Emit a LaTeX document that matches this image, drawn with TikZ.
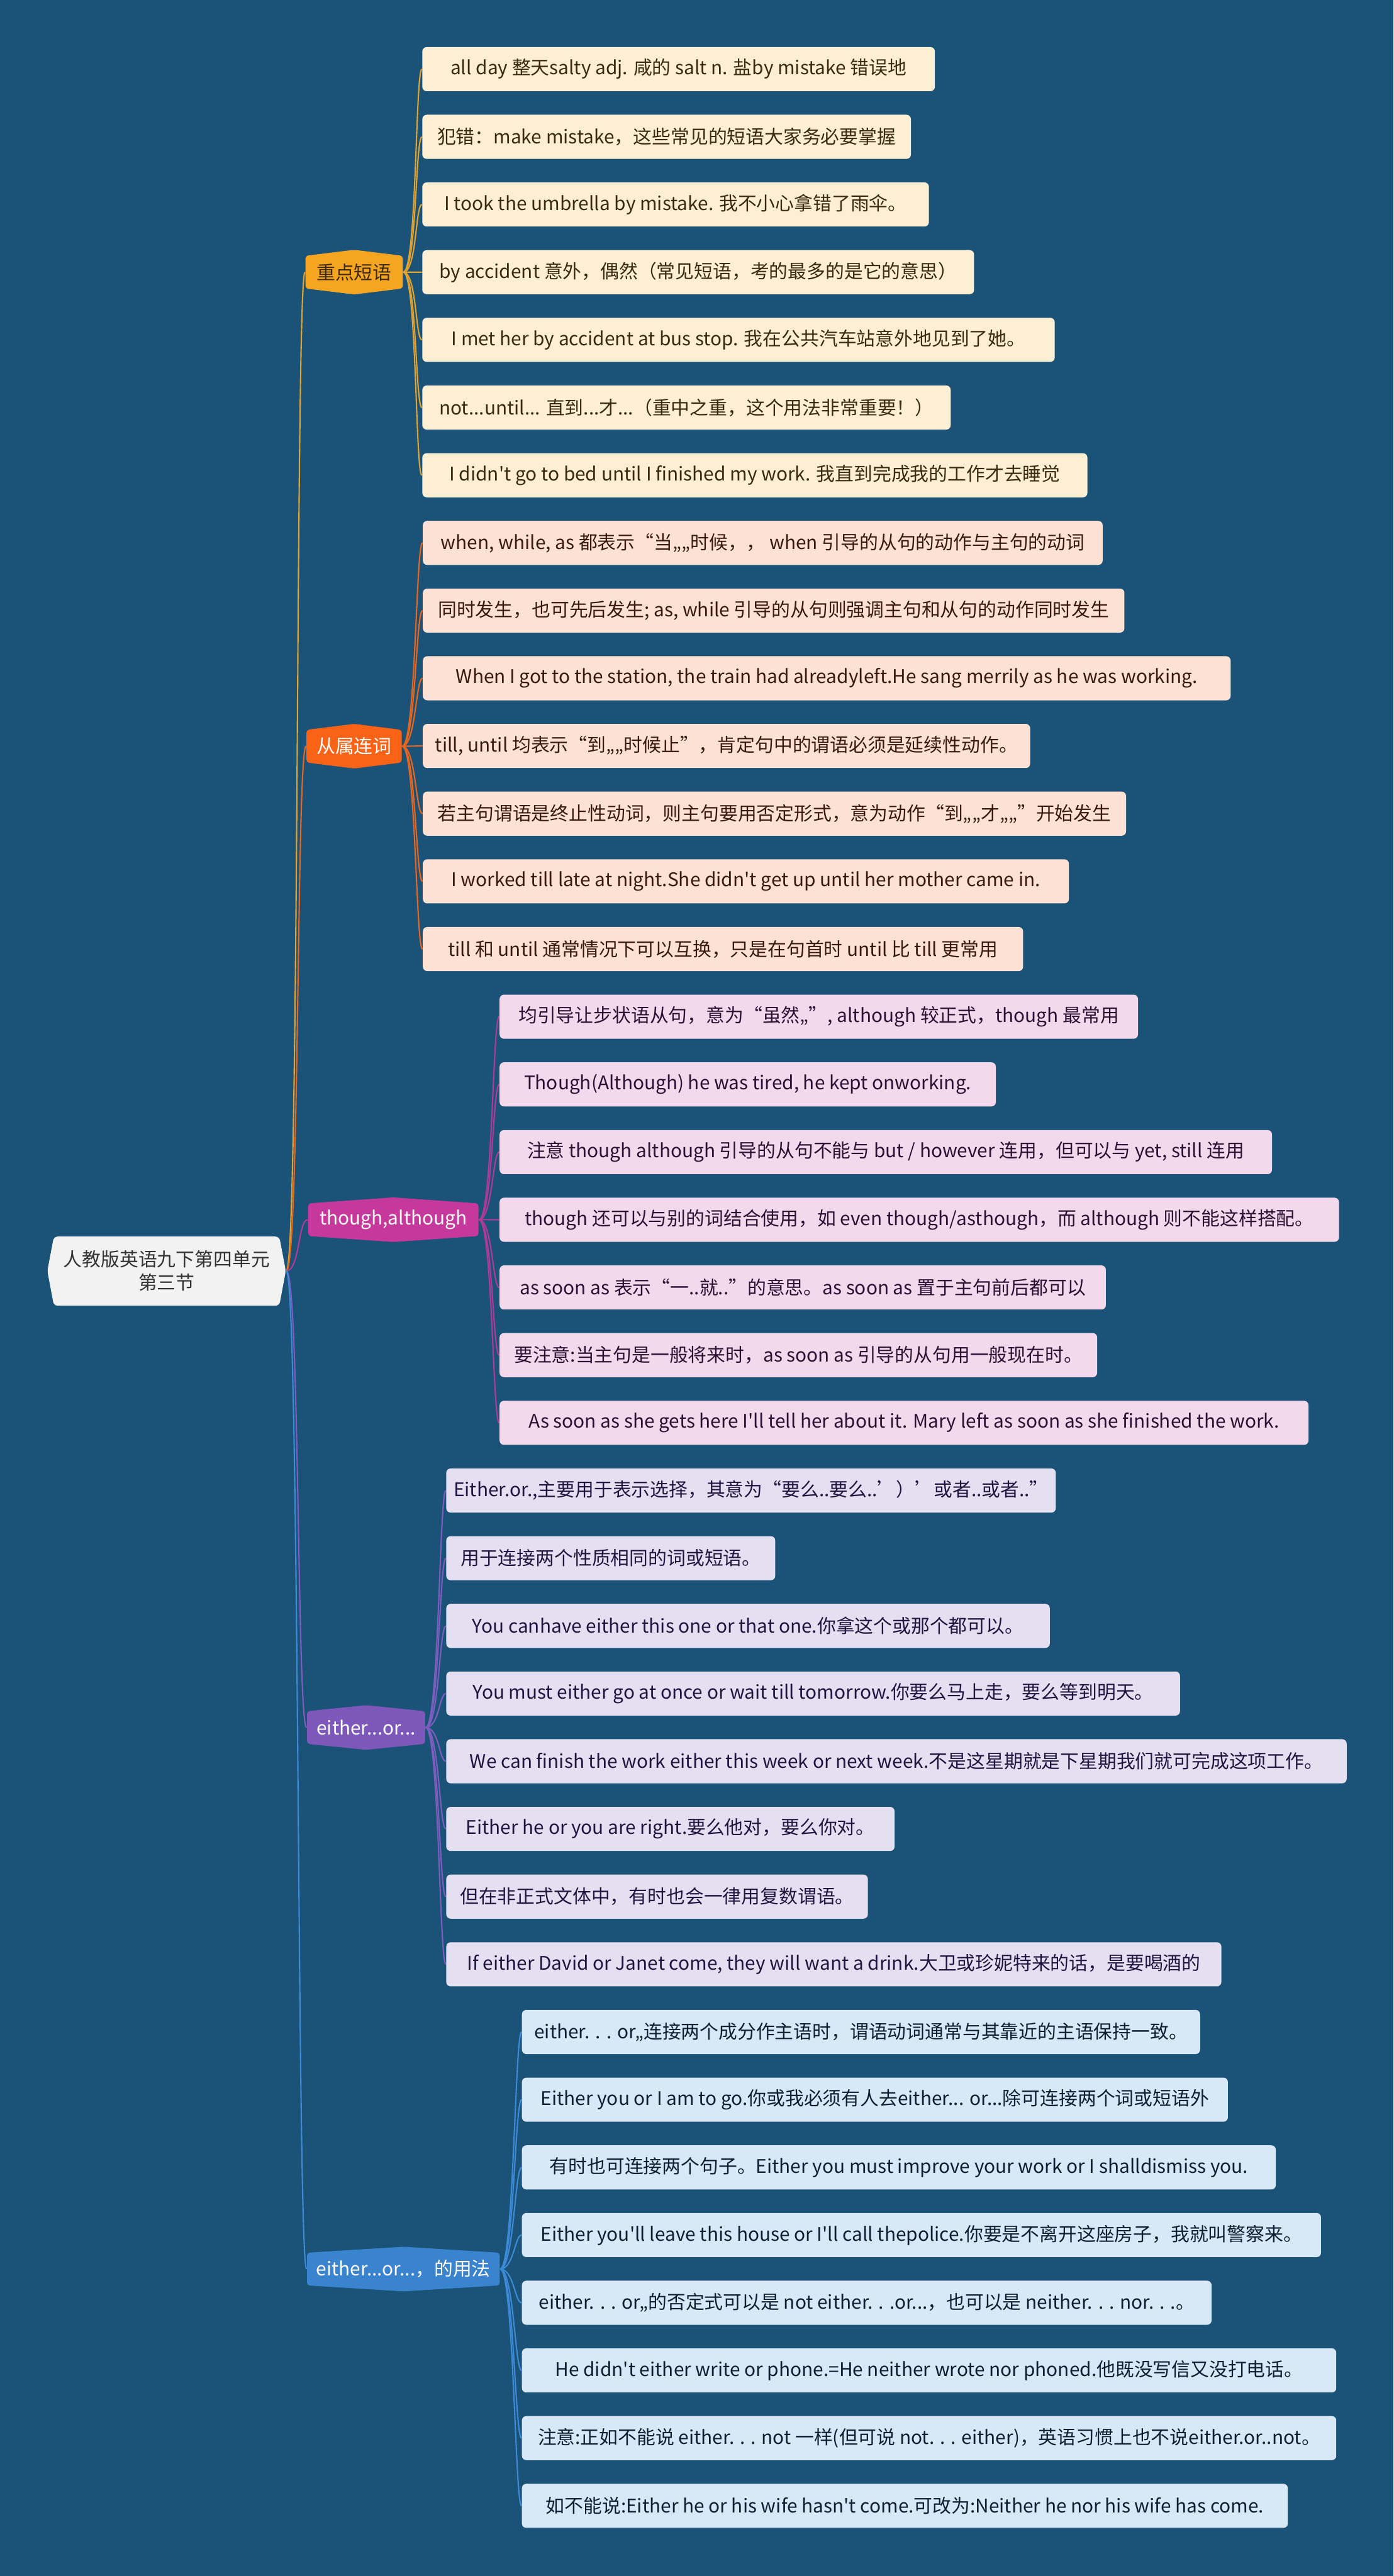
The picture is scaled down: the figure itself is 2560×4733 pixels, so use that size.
\documentclass[tikz,border=0pt]{standalone}
\usepackage{fontspec}
\setmainfont{Noto Sans CJK SC}
\newfontfamily\cjkf{Noto Sans CJK SC}
\usetikzlibrary{calc}
\definecolor{bgc}{RGB}{26,83,119}
\definecolor{rootfill}{RGB}{242,242,242}
\definecolor{roottxt}{RGB}{51,51,51}
\definecolor{hA}{RGB}{246,165,33}
\definecolor{hB}{RGB}{250,98,22}
\definecolor{hC}{RGB}{198,56,155}
\definecolor{hD}{RGB}{125,87,186}
\definecolor{hE}{RGB}{58,131,207}
\definecolor{lA}{RGB}{224,162,48}
\definecolor{lB}{RGB}{232,102,30}
\definecolor{lC}{RGB}{176,58,154}
\definecolor{lD}{RGB}{126,93,192}
\definecolor{lE}{RGB}{61,138,216}
\definecolor{fA}{RGB}{252,239,211}
\definecolor{fB}{RGB}{252,225,212}
\definecolor{fC}{RGB}{244,217,236}
\definecolor{fD}{RGB}{229,224,241}
\definecolor{fE}{RGB}{217,232,246}
\definecolor{tA}{RGB}{59,42,18}
\definecolor{tB}{RGB}{58,26,14}
\definecolor{tC}{RGB}{43,17,51}
\definecolor{tD}{RGB}{30,22,64}
\definecolor{tE}{RGB}{15,30,51}
\pgfdeclarelayer{bg}
\pgfsetlayers{bg,main}
\newcommand{\leaffont}{\cjkf\fontsize{9.8pt}{11.5pt}\selectfont}
\newcommand{\hexbranch}[7]{%
  \fill[#5, rounded corners=1.5pt] ({#2-#4},{#3-30}) -- (#2,{#3-41}) -- ({#2+#4},{#3-30}) -- ({#2+#4},{#3+30}) -- (#2,{#3+41}) -- ({#2-#4},{#3+30}) -- cycle;
  \node[branchtext, text=#6, minimum width={2*#4*0.01cm}] (#1) at (#2,#3) {#7};
}
\tikzset{
  leaf/.style={anchor=west, minimum height=0.81cm, rounded corners=2.3pt, inner sep=0pt, font=\leaffont},
  leafA/.style={leaf, fill=fA, text=tA},
  leafB/.style={leaf, fill=fB, text=tB},
  leafC/.style={leaf, fill=fC, text=tC},
  leafD/.style={leaf, fill=fD, text=tD},
  leafE/.style={leaf, fill=fE, text=tE},
  branchtext/.style={inner sep=0pt, minimum height=0.82cm, font=\cjkf\fontsize{9.8pt}{11.5pt}\selectfont},
  roottext/.style={inner sep=0pt, align=center, text=roottxt, font=\cjkf\fontsize{9.8pt}{12pt}\selectfont},
  conn/.style={line width=0.7pt},
}
\begin{document}
\begin{tikzpicture}[x=0.01cm,y=-0.01cm]
\begin{pgfonlayer}{bg}
\fill[bgc] (0,0) rectangle (2560,4733);
\end{pgfonlayer}
\useasboundingbox (0,0) rectangle (2560,4733);

% root
\fill[rootfill, rounded corners=2pt] (99,2272) -- (513,2272) -- (525,2335) -- (513,2399) -- (99,2399) -- (87,2335) -- cycle;
\node[roottext, minimum width=4.38cm, minimum height=1.27cm] (root) at (306,2335) {人教版英语九下第四单元\\第三节};

% branches
\hexbranch{b1}{650.5}{500}{89.5}{hA}{tA}{重点短语}
\hexbranch{b2}{650.5}{1371}{87.5}{hB}{white}{从属连词}
\hexbranch{b3}{722.5}{2241}{156.5}{hC}{white}{though,although}
\hexbranch{b4}{672.5}{3174}{108.5}{hD}{white}{either...or...}
\hexbranch{b5}{741}{4169}{177}{hE}{white}{either...or...，的用法}

% branch 1 leaves
\node[leafA, minimum width=9.41cm] (a1) at (775,127) {all day 整天salty adj. 咸的 salt n. 盐by mistake 错误地};
\node[leafA, minimum width=8.97cm] (a2) at (775,251.4) {犯错：make mistake，这些常见的短语大家务必要掌握};
\node[leafA, minimum width=9.30cm] (a3) at (775,375.7) {I took the umbrella by mistake. 我不小心拿错了雨伞。};
\node[leafA, minimum width=10.13cm] (a4) at (775,500.1) {by accident 意外，偶然（常见短语，考的最多的是它的意思）};
\node[leafA, minimum width=11.61cm] (a5) at (775,624.4) {I met her by accident at bus stop. 我在公共汽车站意外地见到了她。};
\node[leafA, minimum width=9.70cm] (a6) at (775,748.8) {not...until... 直到...才...（重中之重，这个用法非常重要！）};
\node[leafA, minimum width=12.21cm] (a7) at (775,873.2) {I didn't go to bed until I finished my work. 我直到完成我的工作才去睡觉};

% branch 2 leaves
\node[leafB, minimum width=12.48cm] (a8) at (776,997.5) {when, while, as 都表示“当„„时候，， when 引导的从句的动作与主句的动词};
\node[leafB, minimum width=12.88cm] (a9) at (776,1121.9) {同时发生，也可先后发生; as, while 引导的从句则强调主句和从句的动作同时发生};
\node[leafB, minimum width=14.83cm] (a10) at (776,1246.2) {When I got to the station, the train had alreadyleft.He sang merrily as he was working.};
\node[leafB, minimum width=11.15cm] (a11) at (776,1370.6) {till, until 均表示“到„„时候止”，肯定句中的谓语必须是延续性动作。};
\node[leafB, minimum width=12.91cm] (a12) at (776,1495.0) {若主句谓语是终止性动词，则主句要用否定形式，意为动作“到„„才„„”开始发生};
\node[leafB, minimum width=11.86cm] (a13) at (776,1619.3) {I worked till late at night.She didn't get up until her mother came in.};
\node[leafB, minimum width=11.02cm] (a14) at (776,1743.7) {till 和 until 通常情况下可以互换，只是在句首时 until 比 till 更常用};

% branch 3 leaves
\node[leafC, minimum width=11.72cm] (a15) at (917,1868.0) {均引导让步状语从句，意为“虽然„”, although 较正式，though 最常用};
\node[leafC, minimum width=9.11cm] (a16) at (917,1992.4) {Though(Although) he was tired, he kept onworking.};
\node[leafC, minimum width=14.18cm] (a17) at (917,2116.8) {注意 though although 引导的从句不能与 but / however 连用，但可以与 yet, still 连用};
\node[leafC, minimum width=15.41cm] (a18) at (917,2241.1) {though 还可以与别的词结合使用，如 even though/asthough，而 although 则不能这样搭配。};
\node[leafC, minimum width=11.13cm] (a19) at (917,2365.5) {as soon as 表示“一..就..”的意思。as soon as 置于主句前后都可以};
\node[leafC, minimum width=10.97cm] (a20) at (917,2489.8) {要注意:当主句是一般将来时，as soon as 引导的从句用一般现在时。};
\node[leafC, minimum width=14.85cm] (a21) at (917,2614.2) {As soon as she gets here I'll tell her about it. Mary left as soon as she finished the work.};

% branch 4 leaves
\node[leafD, minimum width=11.19cm] (a22) at (819,2738.6) {Either.or.,主要用于表示选择，其意为“要么..要么..’）’或者..或者..”};
\node[leafD, minimum width=6.04cm] (a23) at (819,2862.9) {用于连接两个性质相同的词或短语。};
\node[leafD, minimum width=11.08cm] (a24) at (819,2987.3) {You canhave either this one or that one.你拿这个或那个都可以。};
\node[leafD, minimum width=13.47cm] (a25) at (819,3111.6) {You must either go at once or wait till tomorrow.你要么马上走，要么等到明天。};
\node[leafD, minimum width=16.53cm] (a26) at (819,3236.0) {We can finish the work either this week or next week.不是这星期就是下星期我们就可完成这项工作。};
\node[leafD, minimum width=8.23cm] (a27) at (819,3360.4) {Either he or you are right.要么他对，要么你对。};
\node[leafD, minimum width=7.74cm] (a28) at (819,3484.7) {但在非正式文体中，有时也会一律用复数谓语。};
\node[leafD, minimum width=14.23cm] (a29) at (819,3609.1) {If either David or Janet come, they will want a drink.大卫或珍妮特来的话，是要喝酒的};

% branch 5 leaves
\node[leafE, minimum width=12.45cm] (a30) at (958,3733.4) {either. . . or„连接两个成分作主语时，谓语动词通常与其靠近的主语保持一致。};
\node[leafE, minimum width=12.96cm] (a31) at (958,3857.8) {Either you or I am to go.你或我必须有人去either... or...除可连接两个词或短语外};
\node[leafE, minimum width=13.84cm] (a32) at (958,3982.2) {有时也可连接两个句子。Either you must improve your work or I shalldismiss you.};
\node[leafE, minimum width=14.67cm] (a33) at (958,4106.5) {Either you'll leave this house or I'll call thepolice.你要是不离开这座房子，我就叫警察来。};
\node[leafE, minimum width=12.66cm] (a34) at (958,4230.9) {either. . . or„的否定式可以是 not either. . .or...，也可以是 neither. . . nor. . .。};
\node[leafE, minimum width=14.95cm] (a35) at (958,4355.2) {He didn't either write or phone.=He neither wrote nor phoned.他既没写信又没打电话。};
\node[leafE, minimum width=14.95cm] (a36) at (958,4479.6) {注意:正如不能说 either. . . not 一样(但可说 not. . . either)，英语习惯上也不说either.or..not。};
\node[leafE, minimum width=14.06cm] (a37) at (958,4604.0) {如不能说:Either he or his wife hasn't come.可改为:Neither he nor his wife has come.};

% connectors
\begin{pgfonlayer}{bg}
\foreach \b/\c in {b1/lA, b2/lB, b3/lC, b4/lD, b5/lE}
  \draw[conn, \c] (root.east) .. controls +(25,0) and +(-18,0) .. (\b.west);
\foreach \i in {1,...,7}
  \draw[conn, lA] (b1.east) .. controls +(25,0) and +(-12,0) .. (a\i.west);
\foreach \i in {8,...,14}
  \draw[conn, lB] (b2.east) .. controls +(25,0) and +(-12,0) .. (a\i.west);
\foreach \i in {15,...,21}
  \draw[conn, lC] (b3.east) .. controls +(25,0) and +(-12,0) .. (a\i.west);
\foreach \i in {22,...,29}
  \draw[conn, lD] (b4.east) .. controls +(25,0) and +(-12,0) .. (a\i.west);
\foreach \i in {30,...,37}
  \draw[conn, lE] (b5.east) .. controls +(25,0) and +(-12,0) .. (a\i.west);
\end{pgfonlayer}
\end{tikzpicture}
\end{document}
